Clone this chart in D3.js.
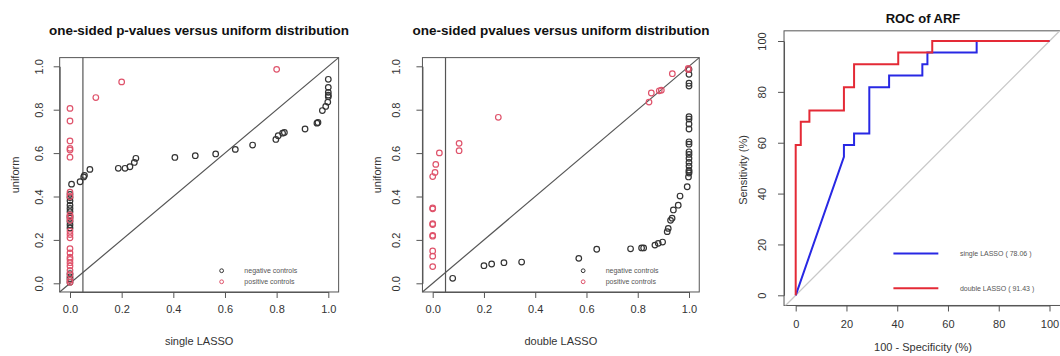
<!DOCTYPE html>
<html lang="en">
<head>
<meta charset="UTF-8">
<title>p-values versus uniform / ROC of ARF</title>
<script src="https://d3js.org/d3.v7.min.js"></script>
<style>
  * { margin: 0; padding: 0; box-sizing: border-box; }
  body { background: #fff; font-family: "Liberation Sans", Arial, sans-serif; }
  .tick text { fill: #333; font-size: 11px; }
  .tick line, .domain { stroke: #555; }
</style>
</head>
<body>
<div id="chart"></div>
<script>
// ---- panel 1: single LASSO ----
const p1NegX = [0, 0, 0, 0, 0, 0, 0, 0, 0, 0, 0, 0, 0, 0, 0,
  0.006, 0.039, 0.053, 0.056, 0.077, 0.187, 0.213, 0.232, 0.249, 0.255, 0.406, 0.485, 0.564, 0.64, 0.707,
  0.797, 0.806, 0.823, 0.83, 0.91, 0.956, 0.96, 0.977, 0.99, 0.998, 1, 1, 1, 1, 1];
const p1NegY = [0.005, 0.02, 0.03, 0.045, 0.255, 0.27, 0.285, 0.3, 0.31, 0.33, 0.345, 0.36, 0.38, 0.395, 0.41,
  0.457, 0.468, 0.49, 0.497, 0.525, 0.53, 0.53, 0.537, 0.557, 0.576, 0.58, 0.588, 0.596, 0.617, 0.637,
  0.663, 0.68, 0.692, 0.695, 0.711, 0.738, 0.741, 0.796, 0.815, 0.835, 0.86, 0.867, 0.88, 0.903, 0.94];
const p1PosX = [0, 0, 0, 0, 0, 0, 0, 0, 0, 0, 0, 0, 0, 0, 0, 0, 0, 0, 0, 0, 0, 0, 0, 0, 0.1, 0.2, 0.8];
const p1PosY = [0.005, 0.015, 0.04, 0.06, 0.08, 0.095, 0.11, 0.12, 0.14, 0.16, 0.21, 0.225, 0.24, 0.29, 0.305,
  0.315, 0.4, 0.42, 0.581, 0.614, 0.622, 0.656, 0.748, 0.806, 0.856, 0.928, 0.986];

// ---- panel 2: double LASSO ----
const p2NegX = [0.078, 0.2, 0.23, 0.278, 0.347, 0.57, 0.64, 0.772, 0.815, 0.823, 0.867, 0.88, 0.897, 0.915, 0.919,
  0.928, 0.934, 0.939, 0.958, 0.965, 0.993, 0.998, 1, 1, 1, 1, 1, 1, 1, 1, 1, 1, 1, 1, 1, 1, 1, 1, 1, 1];
const p2NegY = [0.023, 0.081, 0.089, 0.095, 0.098, 0.115, 0.157, 0.159, 0.163, 0.163, 0.176, 0.184, 0.19, 0.238, 0.253,
  0.29, 0.3, 0.338, 0.36, 0.402, 0.445, 0.49, 0.508, 0.515, 0.522, 0.54, 0.557, 0.576, 0.594, 0.606,
  0.641, 0.652, 0.711, 0.734, 0.757, 0.768, 0.909, 0.922, 0.963, 0.986];
const p2PosX = [0, 0, 0, 0, 0, 0, 0, 0, 0, 0, 0.009, 0.012, 0.026, 0.103, 0.103, 0.256,
  0.844, 0.853, 0.884, 0.892, 0.935, 0.997, 0.997];
const p2PosY = [0.077, 0.125, 0.149, 0.217, 0.221, 0.271, 0.275, 0.343, 0.347, 0.492, 0.511, 0.548, 0.601, 0.611, 0.645, 0.765,
  0.835, 0.877, 0.887, 0.89, 0.966, 0.99, 0.985];

const pTicks = [0, 0.2, 0.4, 0.6, 0.8, 1.0];
const legendLabels = ["negative controls", "positive controls"];

// ---- panel 3: ROC ----
const rocSingleX = [0, 19, 19, 23, 23, 29, 29, 36.8, 36.8, 49.9, 49.9, 51.9, 51.9, 71.3, 71.3, 100];
const rocSingleY = [0, 54.5, 59.1, 59.1, 63.6, 63.6, 81.8, 81.8, 86.4, 86.4, 90.9, 90.9, 95.5, 95.5, 100, 100];
const rocDoubleX = [0, 0, 2, 2, 5.4, 5.4, 19, 19, 23, 23, 40.4, 40.4, 53.8, 53.8, 100];
const rocDoubleY = [0, 59.1, 59.1, 68.2, 68.2, 72.7, 72.7, 81.8, 81.8, 90.9, 90.9, 95.5, 95.5, 100, 100];
const rocTicks = [0, 20, 40, 60, 80, 100];
const rocLabels = ["single LASSO ( 78.06 )", "double LASSO ( 91.43 )"];

const negCol = "#333333", posCol = "#df536b";
const blue = "#2828e4", red = "#e42a36";

const svg = d3.select("#chart").append("svg")
  .attr("width", 1060).attr("height", 356);

function yAxisRot(g, off) {
  g.selectAll(".tick text")
    .attr("x", 0).attr("dy", "0.35em")
    .attr("text-anchor", "middle")
    .attr("transform", `translate(${-off},0) rotate(-90)`);
}

function qqPanel(c) {
  const x = d3.scaleLinear().domain([0, 1]).range([c.x0, c.x1]);
  const y = d3.scaleLinear().domain([0, 1]).range([283.3, 66.3]);
  const g = svg.append("g");

  g.append("rect")
    .attr("x", x(-0.04)).attr("y", y(1.04))
    .attr("width", x(1.04) - x(-0.04)).attr("height", y(-0.04) - y(1.04))
    .attr("fill", "none").attr("stroke", "#555").attr("stroke-width", 1);

  g.append("g").attr("transform", `translate(0,${y(-0.04)})`)
    .call(d3.axisBottom(x).tickValues(pTicks).tickFormat(d3.format(".1f")).tickSize(6).tickSizeOuter(0))
    .call(a => a.selectAll(".tick text").attr("y", 13));

  g.append("g").attr("transform", `translate(${x(-0.04)},0)`)
    .call(d3.axisLeft(y).tickValues(pTicks).tickFormat(d3.format(".1f")).tickSize(6).tickSizeOuter(0))
    .call(a => yAxisRot(a, c.labOff));

  // reference lines
  g.append("line")
    .attr("x1", x(-0.04)).attr("y1", y(-0.04)).attr("x2", x(1.04)).attr("y2", y(1.04))
    .attr("stroke", "#555").attr("stroke-width", 1.2);
  g.append("line")
    .attr("x1", x(0.05)).attr("x2", x(0.05)).attr("y1", y(-0.04)).attr("y2", y(1.04))
    .attr("stroke", "#555").attr("stroke-width", 1.2);

  g.selectAll(".neg").data(d3.zip(c.negX, c.negY)).enter()
    .append("circle").attr("class", "neg")
    .attr("cx", d => x(d[0])).attr("cy", d => y(d[1])).attr("r", 2.8)
    .attr("fill", "none").attr("stroke", negCol).attr("stroke-width", 1.2);
  g.selectAll(".pos").data(d3.zip(c.posX, c.posY)).enter()
    .append("circle").attr("class", "pos")
    .attr("cx", d => x(d[0])).attr("cy", d => y(d[1])).attr("r", 2.8)
    .attr("fill", "none").attr("stroke", posCol).attr("stroke-width", 1.2);

  // legend
  [negCol, posCol].forEach((col, i) => {
    const ly = y(0.058 - i * 0.051);
    g.append("circle").attr("cx", x(0.587)).attr("cy", ly).attr("r", 1.9)
      .attr("fill", "none").attr("stroke", col).attr("stroke-width", 1);
    g.append("text").attr("x", x(0.675)).attr("y", ly).attr("dy", "0.35em")
      .style("font-size", "7px").attr("fill", "#555").text(legendLabels[i]);
  });

  g.append("text").attr("x", c.titleX).attr("y", 35)
    .attr("text-anchor", "middle").style("font-size", "13px").style("font-weight", "bold")
    .attr("fill", "#111").attr("textLength", c.titleW).attr("lengthAdjust", "spacingAndGlyphs")
    .text(c.title);
  g.append("text").attr("x", (c.x0 + c.x1) / 2).attr("y", 345)
    .attr("text-anchor", "middle").style("font-size", "11px").attr("fill", "#333")
    .text(c.xlab);
  g.append("text").attr("transform", `translate(${c.ylabX},175) rotate(-90)`)
    .attr("text-anchor", "middle").attr("dy", "0.35em").style("font-size", "11px").attr("fill", "#333")
    .text("uniform");
}

qqPanel({ x0: 70, x1: 328.3, negX: p1NegX, negY: p1NegY, posX: p1PosX, posY: p1PosY,
  labOff: 21, ylabX: 15, titleX: 199, titleW: 300,
  title: "one-sided p-values versus uniform distribution", xlab: "single LASSO" });
qqPanel({ x0: 432.7, x1: 689, negX: p2NegX, negY: p2NegY, posX: p2PosX, posY: p2PosY,
  labOff: 26, ylabX: 377.5, titleX: 561, titleW: 297,
  title: "one-sided pvalues versus uniform distribution", xlab: "double LASSO" });

// ---- ROC panel ----
const rx = d3.scaleLinear().domain([0, 100]).range([795.7, 1049.5]);
const ry = d3.scaleLinear().domain([0, 100]).range([295.3, 41]);
const rg = svg.append("g");

rg.append("defs").append("clipPath").attr("id", "rocclip")
  .append("rect").attr("x", rx(-4.6)).attr("y", ry(104))
  .attr("width", rx(105) - rx(-4.6)).attr("height", ry(-4) - ry(104));

rg.append("rect")
  .attr("x", rx(-4.6)).attr("y", ry(104))
  .attr("width", rx(105) - rx(-4.6)).attr("height", ry(-4) - ry(104))
  .attr("fill", "none").attr("stroke", "#555").attr("stroke-width", 1);

rg.append("g").attr("transform", `translate(0,${ry(-4)})`)
  .call(d3.axisBottom(rx).tickValues(rocTicks).tickSize(6).tickSizeOuter(0))
  .call(a => a.selectAll(".tick text").attr("y", 15));
rg.append("g").attr("transform", `translate(${rx(-4.6)},0)`)
  .call(d3.axisLeft(ry).tickValues(rocTicks).tickSize(6).tickSizeOuter(0))
  .call(a => yAxisRot(a, 22));

rg.append("line").attr("clip-path", "url(#rocclip)")
  .attr("x1", rx(-10)).attr("y1", ry(-10)).attr("x2", rx(110)).attr("y2", ry(110))
  .attr("stroke", "#c8c8c8").attr("stroke-width", 1.3);

const rline = d3.line().x(d => rx(d[0])).y(d => ry(d[1]));
rg.append("path").datum(d3.zip(rocSingleX, rocSingleY)).attr("d", rline)
  .attr("fill", "none").attr("stroke", blue).attr("stroke-width", 2);
rg.append("path").datum(d3.zip(rocDoubleX, rocDoubleY)).attr("d", rline)
  .attr("fill", "none").attr("stroke", red).attr("stroke-width", 2);

[blue, red].forEach((col, i) => {
  const ly = ry(i === 0 ? 16.4 : 2.75);
  rg.append("line").attr("x1", rx(38.5)).attr("x2", rx(56.2)).attr("y1", ly).attr("y2", ly)
    .attr("stroke", col).attr("stroke-width", 2);
  rg.append("text").attr("x", rx(64.7)).attr("y", ly).attr("dy", "0.35em")
    .style("font-size", "7px").attr("fill", "#555").text(rocLabels[i]);
});

rg.append("text").attr("x", 923).attr("y", 23)
  .attr("text-anchor", "middle").style("font-size", "13px").style("font-weight", "bold")
  .attr("fill", "#111").text("ROC of ARF");
rg.append("text").attr("x", 923).attr("y", 351)
  .attr("text-anchor", "middle").style("font-size", "11px").attr("fill", "#333")
  .text("100 - Specificity (%)");
rg.append("text").attr("transform", "translate(743,170) rotate(-90)")
  .attr("text-anchor", "middle").attr("dy", "0.35em").style("font-size", "11px").attr("fill", "#333")
  .text("Sensitivity (%)");
</script>
</body>
</html>
